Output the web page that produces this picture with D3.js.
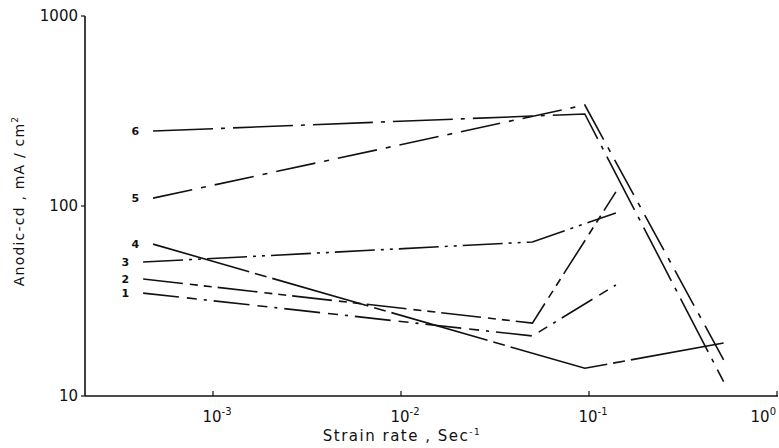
<!DOCTYPE html>
<html>
<head>
<meta charset="utf-8">
<script src="https://cdn.jsdelivr.net/npm/d3@7"></script>
<style>
  body { margin: 0; background: #fff; }
  text { font-family: "DejaVu Sans", sans-serif; fill: #111; }
</style>
</head>
<body>
<svg id="chart" width="779" height="448"></svg>
<script>
// curve numbers and values (strain rate, anodic current density)
const curveIds = ["1", "2", "3", "4", "5", "6"];
const rate123 = [4.25e-4, 0.050, 0.139];
const rate456 = [4.8e-4, 0.095, 0.52];
const cd1 = [34.8, 20.7, 38.4];
const cd2 = [41.3, 24.2, 118.6];
const cd3 = [50.7, 64.7, 91.9];
const cd4 = [63, 14.0, 19.0];
const cd5 = [110, 340, 15.5];
const cd6 = [248, 305, 11.9];
const xTicks = [1e-3, 1e-2, 1e-1, 1];
const xExp = ["-3", "-2", "-1", "0"];
const yTicks = [10, 100, 1000];

const curves = [
  { id: "1", x: rate123, y: cd1, dash: "36,8,10,7,3,7" },
  { id: "2", x: rate123, y: cd2, dash: "40,7,8,6,8,6" },
  { id: "3", x: rate123, y: cd3, dash: "40,6,3,6,3,6" },
  { id: "4", x: rate456, y: cd4, dash: "100,6,12,6" },
  { id: "5", x: rate456, y: cd5, dash: "40,9,5,9" },
  { id: "6", x: rate456, y: cd6, dash: "60,8,4,8" }
];

const svg = d3.select("#chart");

const x = d3.scaleLog().domain([Math.pow(10, -3 - 128 / 188), 1]).range([85, 777]);
const y = d3.scaleLog().domain([10, 1000]).range([396, 16]);

// axes
svg.append("line").attr("x1", 85).attr("x2", 85).attr("y1", 16).attr("y2", 396)
  .attr("stroke", "#111").attr("stroke-width", 1.6);
svg.append("line").attr("x1", 85).attr("x2", 778).attr("y1", 396).attr("y2", 396)
  .attr("stroke", "#111").attr("stroke-width", 1.6);

// x ticks (pointing up) with 10^n labels
xTicks.forEach((t, i) => {
  svg.append("line").attr("x1", x(t)).attr("x2", x(t)).attr("y1", 396).attr("y2", 391)
    .attr("stroke", "#111").attr("stroke-width", 1.2);
  const last = i === xTicks.length - 1;
  const lbl = svg.append("text").attr("x", last ? 776 : x(t) + 4).attr("y", 422)
    .attr("text-anchor", last ? "end" : "middle").style("font-size", "15px");
  lbl.append("tspan").text("10");
  lbl.append("tspan").attr("dy", -7).style("font-size", "10px").text(xExp[i]);
});

// y ticks and labels
yTicks.forEach(t => {
  svg.append("line").attr("x1", 81).attr("x2", 85).attr("y1", y(t)).attr("y2", y(t))
    .attr("stroke", "#111").attr("stroke-width", 1.2);
  svg.append("text").attr("x", 78).attr("y", y(t) + 5)
    .attr("text-anchor", "end").style("font-size", "15px").text(t);
});

// axis titles
const xt = svg.append("text").attr("x", 402).attr("y", 441)
  .attr("text-anchor", "middle").style("font-size", "15px").style("letter-spacing", "1.5px");
xt.append("tspan").text("Strain rate , Sec");
xt.append("tspan").attr("dy", -6).style("font-size", "9px").text("-1");

const yt = svg.append("text").attr("transform", "translate(24,201) rotate(-90)")
  .attr("text-anchor", "middle").style("font-size", "14px").style("letter-spacing", "1.2px");
yt.append("tspan").text("Anodic-cd  ,  mA / cm");
yt.append("tspan").attr("dy", -6).style("font-size", "9px").text("2");

// curves
const line = d3.line().x(d => x(d[0])).y(d => y(d[1]));
curves.forEach(c => {
  const pts = c.x.map((v, i) => [v, c.y[i]]);
  svg.append("path").attr("d", line(pts))
    .attr("fill", "none").attr("stroke", "#111").attr("stroke-width", 1.6)
    .attr("stroke-dasharray", c.dash);
  svg.append("text").attr("x", x(c.x[0]) - 14).attr("y", y(c.y[0]) + 4)
    .attr("text-anchor", "end").style("font-size", "11px").style("font-weight", "bold")
    .text(c.id);
});
</script>
</body>
</html>
